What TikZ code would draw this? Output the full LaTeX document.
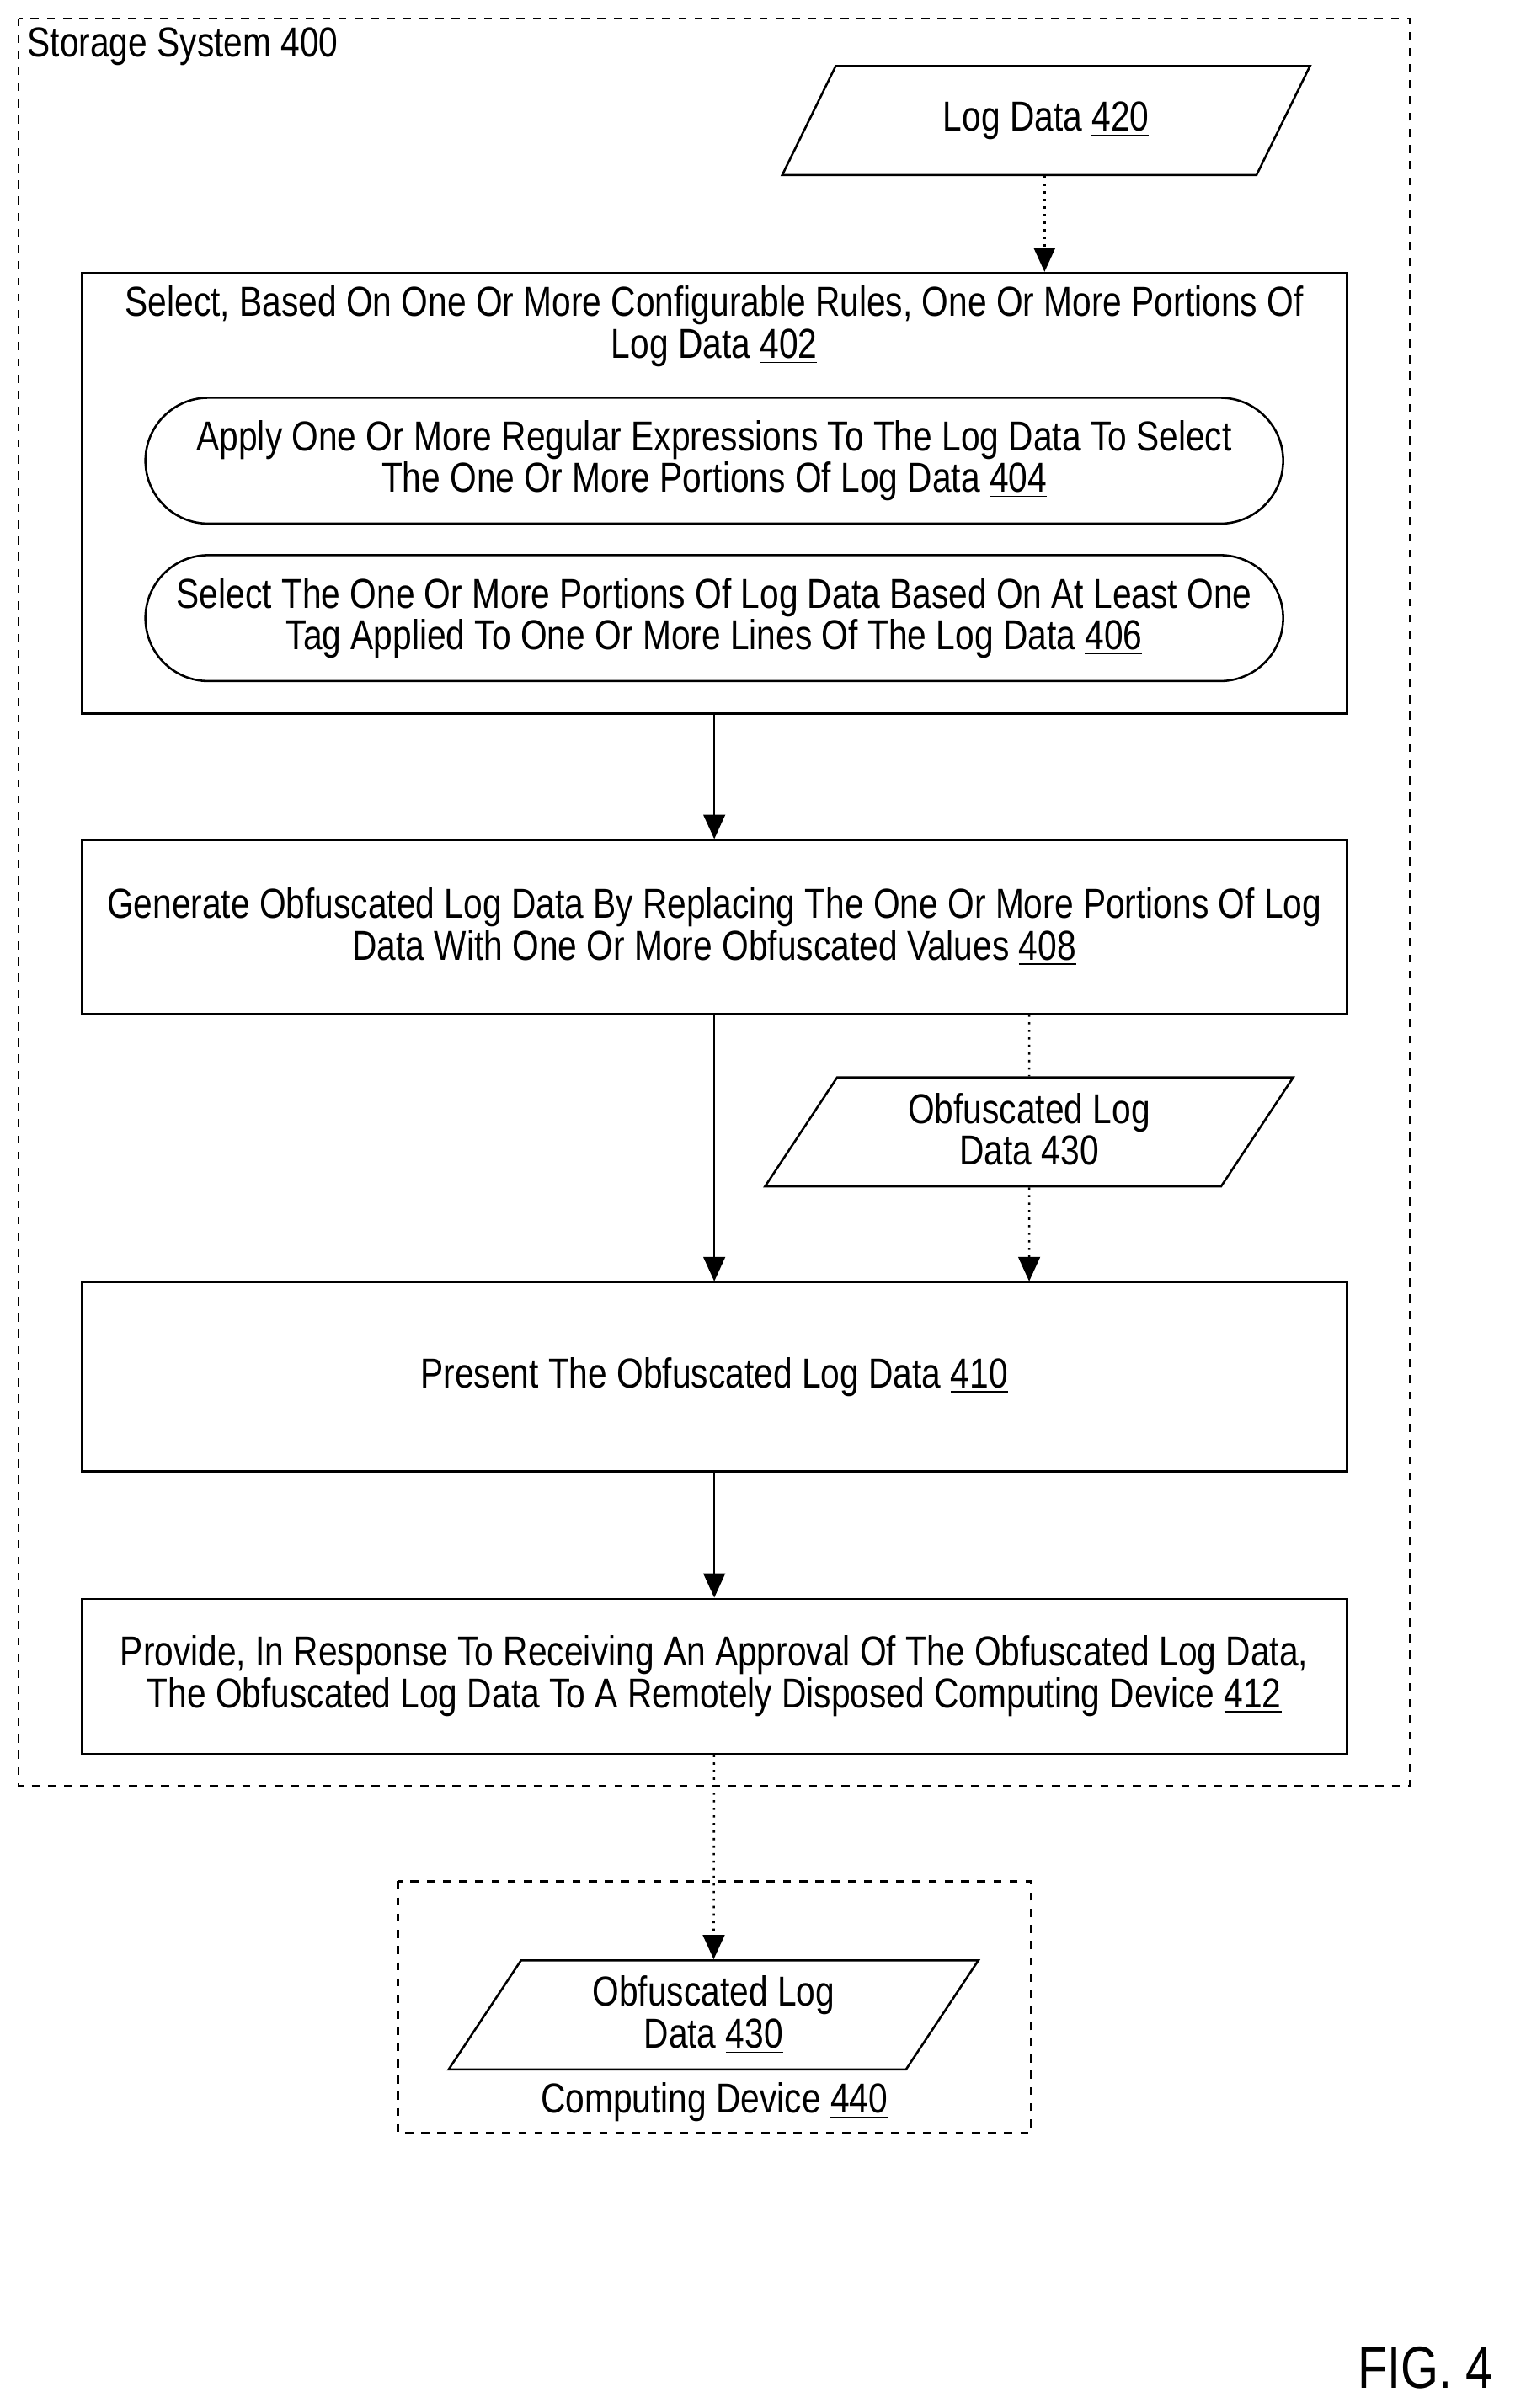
\documentclass[tikz,border=0pt]{standalone}
\usepackage{fontspec}
\setmainfont{Liberation Sans}[FakeStretch=0.82]
\usetikzlibrary{arrows.meta}
\usetikzlibrary{shapes.geometric}
\usetikzlibrary{shapes.misc}
\newcommand{\refnum}[1]{\underline{#1}}
\tikzset{
  step/.style={draw, thick, rectangle, align=center, minimum width=16.48cm, minimum height=#1},
  pill/.style={draw, thick, rounded rectangle, align=center, minimum width=15.05cm, minimum height=1.64cm},
  dat/.style={draw, thick, trapezium, trapezium left angle=63, trapezium right angle=117,
    trapezium stretches=true, minimum width=6.88cm, minimum height=1.42cm, align=center},
  flow/.style={thick, -{Triangle[length=9pt,width=8pt]}},
  dflow/.style={thick, dotted, -{Triangle[length=9pt,width=8pt]}},
  frame/.style={draw, thick, dashed}
}
\begin{document}
\begin{tikzpicture}[x=0.02cm, y=-0.02cm, font=\fontsize{15.5}{15.5}\selectfont]
    \useasboundingbox (0,0) rectangle (993,1568);
    \draw[frame] (12,12) rectangle (918,1163);
    \node[anchor=north west, inner sep=2pt] (sys) at (14,14) {Storage System \refnum{400}};
    \node[dat] (log) at (681,78.5) {Log Data \refnum{420}};
    \node[step=5.74cm, anchor=north] (sel) at (465,177) {};
    \node[anchor=north, align=center] (seltxt) at (465,180) {Select, Based On One Or More Configurable Rules, One Or More Portions Of\\Log Data \refnum{402}};
    \node[pill] (regex) at (465,300) {Apply One Or More Regular Expressions To The Log Data To Select\\The One Or More Portions Of Log Data \refnum{404}};
    \node[pill] (tag) at (465,402.5) {Select The One Or More Portions Of Log Data Based On At Least One\\Tag Applied To One Or More Lines Of The Log Data \refnum{406}};
    \node[step=2.26cm] (gen) at (465,603.5) {Generate Obfuscated Log Data By Replacing The One Or More Portions Of Log\\Data With One Or More Obfuscated Values \refnum{408}};
    \node[dat] (obf) at (670,737) {Obfuscated Log\\Data \refnum{430}};
    \node[step=2.46cm] (pres) at (465,896.5) {Present The Obfuscated Log Data \refnum{410}};
    \node[step=2.02cm] (prov) at (465,1091.5) {Provide, In Response To Receiving An Approval Of The Obfuscated Log Data,\\The Obfuscated Log Data To A Remotely Disposed Computing Device \refnum{412}};
    \draw[frame] (259,1225) rectangle (671,1389);
    \node[dat, minimum width=6.9cm] (obf2) at (464.5,1312) {Obfuscated Log\\Data \refnum{430}};
    \node (dev) at (465,1369) {Computing Device \refnum{440}};
    \node[font=\fontsize{22}{24}\selectfont] (fig) at (928,1542) {FIG. 4};
    % connectors
    \draw[dflow] (log.south -| 680,0) -- (sel.north -| 680,0);
    \draw[flow] (sel) -- (gen);
    \draw[flow] (gen) -- (pres);
    \draw[thick, dotted] (gen.south -| obf) -- (obf.north);
    \draw[dflow] (obf.south) -- (pres.north -| obf);
    \draw[flow] (pres) -- (prov);
    \draw[dflow] (prov) -- (obf2);
\end{tikzpicture}
\end{document}
